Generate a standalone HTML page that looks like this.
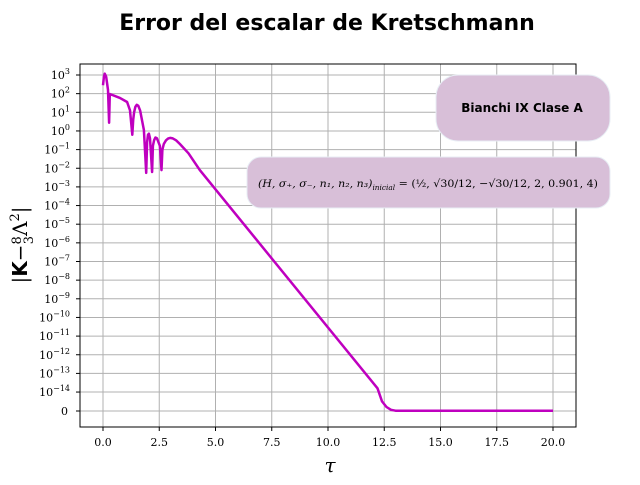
<!DOCTYPE html>
<html><head><meta charset="utf-8"><style>
body{margin:0;background:#fff;width:640px;height:480px;overflow:hidden}
svg{font-family:"DejaVu Serif","Liberation Serif",serif}
</style></head><body>
<svg id="chart" width="640" height="480" xmlns="http://www.w3.org/2000/svg">
<text x="327" y="30" text-anchor="middle" font-family="DejaVu Sans, Liberation Sans, sans-serif" font-weight="bold" font-size="22">Error del escalar de Kretschmann</text>
<g id="grid"></g>
<g id="ticks"></g>
<path id="series" fill="none" stroke="#bf00bf" stroke-width="2.5" stroke-linejoin="round"/>
<rect x="80" y="64" width="496" height="363" fill="none" stroke="#000" stroke-width="1"/>
<text x="330" y="472" text-anchor="middle" font-style="italic" font-size="20">τ</text>
<text transform="translate(27,245) rotate(-90)" text-anchor="middle" font-size="20">|<tspan font-family="DejaVu Sans, sans-serif" font-weight="bold">K</tspan>−<tspan font-size="13" dy="-6">8</tspan><tspan font-size="13" dx="-8" dy="12">3</tspan><tspan dy="-6">Λ</tspan><tspan font-size="13" dy="-8">2</tspan><tspan dy="8">|</tspan></text>
<rect x="436" y="75" width="174" height="66" rx="22" fill="#d8bfd8" stroke="#e8eef5"/>
<text x="522" y="112" text-anchor="middle" font-family="DejaVu Sans, Liberation Sans, sans-serif" font-weight="bold" font-size="12">Bianchi IX Clase A</text>
<rect x="247" y="157" width="363" height="51" rx="14" fill="#d8bfd8" stroke="#e8eef5"/>
<text x="428" y="187" text-anchor="middle" font-size="10.5" font-style="italic" textLength="340" lengthAdjust="spacingAndGlyphs">(H, σ₊, σ₋, n₁, n₂, n₃)<tspan font-size="7" dy="3">inicial</tspan><tspan dy="-3" font-style="normal"> = (½, √30/12, −√30/12, 2, 0.901, 4)</tspan></text>
</svg>
<script>
const xTicks=[0,2.5,5,7.5,10,12.5,15,17.5,20];
const xTickLabels=["0.0","2.5","5.0","7.5","10.0","12.5","15.0","17.5","20.0"];
const yTicks=[3,2,1,0,-1,-2,-3,-4,-5,-6,-7,-8,-9,-10,-11,-12,-13,-14,-15];
const tau=[0,0.04,0.08,0.14,0.22,0.27,0.3,0.75,1.07,1.2,1.3,1.34,1.38,1.44,1.5,1.57,1.65,1.82,1.92,1.96,2.0,2.04,2.09,2.18,2.22,2.27,2.33,2.4,2.53,2.6,2.64,2.7,2.8,2.9,2.98,3.1,3.25,3.42,3.8,4.3,12.2,12.4,12.6,12.8,13,20];
const logErr=[2.45,2.9,3.07,2.9,2.2,0.44,1.98,1.77,1.55,1.1,-0.2,0.6,1.0,1.3,1.4,1.35,1.1,0.05,-2.25,-0.6,-0.2,-0.15,-0.4,-2.2,-0.8,-0.5,-0.35,-0.4,-0.8,-2.1,-1.0,-0.7,-0.5,-0.4,-0.37,-0.4,-0.5,-0.7,-1.2,-2.1,-13.8,-14.5,-14.8,-14.95,-15,-15];
const X=t=>103+t*22.5;
const Y=l=>75+(3-l)*18.65;
const NS="http://www.w3.org/2000/svg";
const grid=document.getElementById('grid'),ticks=document.getElementById('ticks');
function el(tag,attrs,parent,txt){const e=document.createElementNS(NS,tag);for(const k in attrs)e.setAttribute(k,attrs[k]);if(txt!==undefined)e.textContent=txt;parent.appendChild(e);return e;}
xTicks.forEach((t,i)=>{
 const g=el('line',{x1:X(t),x2:X(t),y1:64,y2:427,stroke:'#b0b0b0','stroke-width':1},grid);
 
 
 const tk=el('line',{x1:X(t),x2:X(t),y1:427,y2:431,stroke:'#000'},ticks);
 
 
 const lb=el('text',{x:X(t),y:446,'text-anchor':'middle','font-size':11},ticks,xTickLabels[i]);
 
 
});
yTicks.forEach(k=>{
 const y=k===-15?411:Y(k);
 const g=el('line',{x1:80,x2:576,y1:y,y2:y,stroke:'#b0b0b0','stroke-width':1},grid);
 
 
 const tk=el('line',{x1:76,x2:80,y1:y,y2:y,stroke:'#000'},ticks);
 
 
 const lb=el('text',{x:k===-15?68:70,y:y+4,'text-anchor':'end','font-size':11},ticks);
 
 
 if(k===-15){lb.textContent='0';}
 else{lb.textContent='10';const s=document.createElementNS(NS,'tspan');s.setAttribute('font-size','8');s.setAttribute('dy','-5');s.textContent=(k<0?'−'+(-k):String(k));lb.appendChild(s);}
});
let d='';
tau.forEach((t,i)=>{d+=(i?'L':'M')+X(t).toFixed(1)+','+Y(logErr[i]).toFixed(1);});
document.getElementById('series').setAttribute('d',d);
</script>
</body></html>
